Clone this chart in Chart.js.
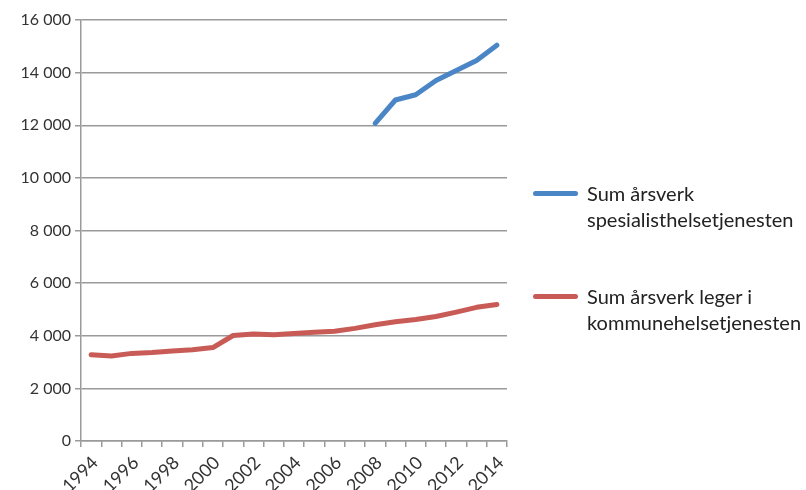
<!DOCTYPE html>
<html>
<head>
<meta charset="utf-8">
<script src="https://cdn.jsdelivr.net/npm/chart.js@4/dist/chart.umd.min.js"></script>
<style>
  html, body { margin: 0; padding: 0; background: #fff; }
  #wrap { position: relative; width: 806px; height: 490px; }
  #legend { position: absolute; left: 530px; top: 180px; font-family: Lato, sans-serif; font-size: 20px; color: #222; line-height: 26px; }
  .item { position: relative; padding-left: 57px; margin-bottom: 51px; }
  .swatch { position: absolute; left: 3px; top: 11px; width: 45px; height: 5px; border-radius: 3px; }
</style>
</head>
<body>
<div id="wrap">
  <canvas id="chart" width="806" height="490"></canvas>
  <div id="legend"></div>
</div>
<script>
const years = ['1994','1995','1996','1997','1998','1999','2000','2001','2002','2003','2004',
  '2005','2006','2007','2008','2009','2010','2011','2012','2013','2014'];

// Sum årsverk spesialisthelsetjenesten (only from 2008)
const spesialist = [null, null, null, null, null, null, null, null, null, null, null,
  null, null, null, 12070, 12960, 13160, 13700, 14080, 14460, 15040];

// Sum årsverk leger i kommunehelsetjenesten
const kommune = [3280, 3230, 3330, 3360, 3420, 3470, 3550, 4010, 4070, 4040, 4090,
  4130, 4170, 4280, 4420, 4530, 4620, 4730, 4900, 5080, 5190];

const seriesNames = [['Sum årsverk', 'spesialisthelsetjenesten'], ['Sum årsverk leger i', 'kommunehelsetjenesten']];
const seriesColors = ['#4A86C6', '#C95B57'];

const tickFont = { family: 'Lato, sans-serif', size: 16 };
const gridColor = '#9a9a9a';

const ctx = document.getElementById('chart').getContext('2d');
new Chart(ctx, {
  type: 'line',
  data: {
    labels: years,
    datasets: [
      { label: seriesNames[0].join(' '), data: spesialist, borderColor: seriesColors[0], backgroundColor: seriesColors[0] },
      { label: seriesNames[1].join(' '), data: kommune, borderColor: seriesColors[1], backgroundColor: seriesColors[1] }
    ]
  },
  options: {
    responsive: false,
    animation: false,
    spanGaps: false,
    layout: { padding: { top: 20, right: 299, left: 0, bottom: 0 } },
    elements: {
      line: { borderWidth: 5, tension: 0, borderCapStyle: 'round', borderJoinStyle: 'round' },
      point: { radius: 0 }
    },
    plugins: {
      legend: { display: false },
      tooltip: { enabled: false }
    },
    scales: {
      x: {
        offset: true,
        grid: { offset: true, drawOnChartArea: false, drawTicks: true, tickLength: 6, color: gridColor, lineWidth: 1.5 },
        border: { color: gridColor, width: 1.5 },
        ticks: {
          font: { family: 'Lato, sans-serif', size: 18 }, color: '#333', autoSkip: false,
          minRotation: 45, maxRotation: 45, padding: 5, labelOffset: 4,
          callback: (v, i) => (i % 2 === 0 ? years[i] : '')
        },
        afterFit: s => { s.height = 49; }
      },
      y: {
        min: 0, max: 16000,
        grid: { color: gridColor, lineWidth: 1.5, tickLength: 6 },
        border: { color: gridColor, width: 1.5 },
        ticks: {
          stepSize: 2000, font: tickFont, color: '#333', padding: 4,
          callback: v => String(v).replace(/\B(?=(\d{3})+(?!\d))/g, ' ')
        },
        afterFit: s => { s.width = 81; }
      }
    }
  }
});

// HTML legend to the right of the plot
const legend = document.getElementById('legend');
seriesNames.forEach((lines, i) => {
  const item = document.createElement('div');
  item.className = 'item';
  const sw = document.createElement('span');
  sw.className = 'swatch';
  sw.style.background = seriesColors[i];
  item.appendChild(sw);
  item.appendChild(document.createTextNode(lines[0]));
  item.appendChild(document.createElement('br'));
  item.appendChild(document.createTextNode(lines[1]));
  legend.appendChild(item);
});
</script>
</body>
</html>
